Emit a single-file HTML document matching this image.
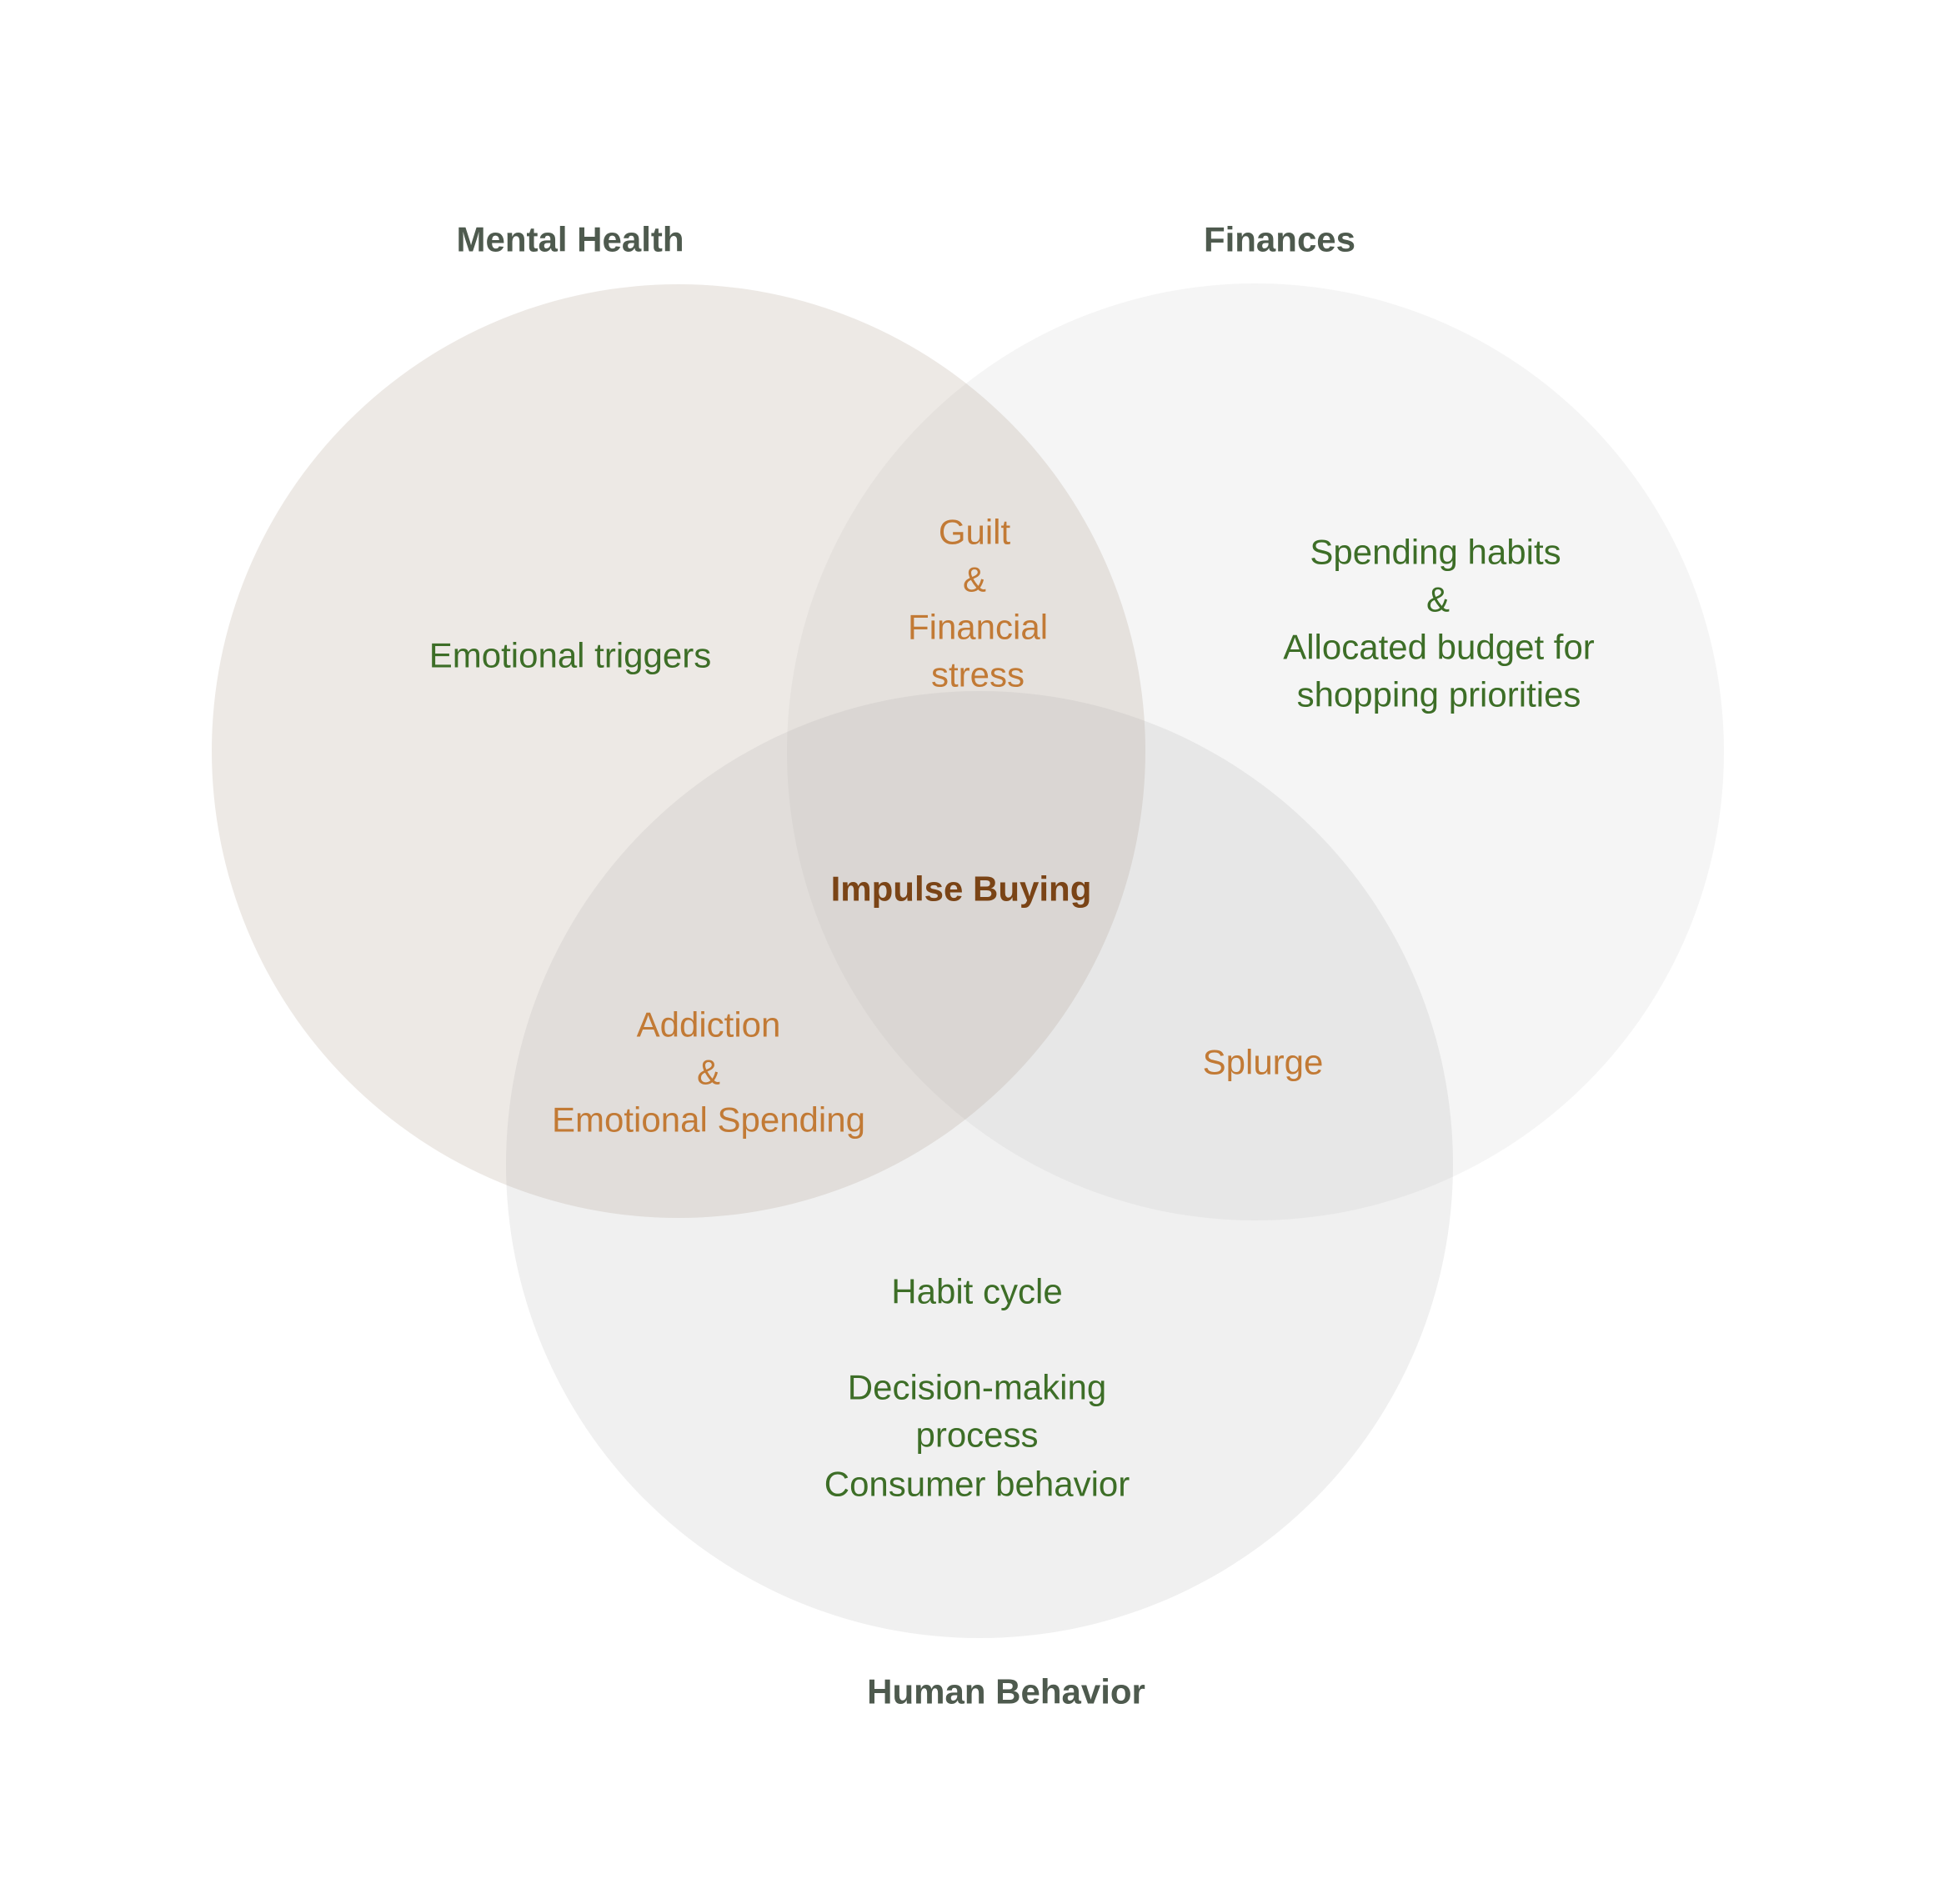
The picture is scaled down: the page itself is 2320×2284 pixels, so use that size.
<!DOCTYPE html>
<html><head><meta charset="utf-8"><style>
html,body{margin:0;padding:0;background:#fff;}
svg{display:block;}
text{font-family:"Liberation Sans",sans-serif;text-anchor:middle;dominant-baseline:central;}
.g{fill:#3d6e27;font-size:42px;}
.o{fill:#c27a35;font-size:42px;}
.h{fill:#4e5a4e;font-size:42px;font-weight:bold;}
</style></head><body>
<svg width="2320" height="2284" viewBox="0 0 2320 2284" xmlns="http://www.w3.org/2000/svg">
<rect width="2320" height="2284" fill="#fff"/>
<circle cx="814" cy="901" r="560" fill="rgb(200,188,176)" fill-opacity="0.33"/>
<circle cx="1506" cy="902" r="562" fill="rgb(160,160,160)" fill-opacity="0.11"/>
<circle cx="1175" cy="1397" r="568" fill="rgb(160,160,160)" fill-opacity="0.16"/>
<text class="h" x="684" y="287">Mental Health</text>
<text class="h" x="1535" y="287">Finances</text>
<text class="h" x="1207" y="2029">Human Behavior</text>
<text class="g" x="684" y="786">Emotional triggers</text>
<text class="o" x="1169" y="638">Guilt</text>
<text class="o" x="1169" y="695">&amp;</text>
<text class="o" x="1173" y="752">Financial</text>
<text class="o" x="1173" y="809">stress</text>
<text class="g" x="1722" y="662">Spending habits</text>
<text class="g" x="1725" y="719">&amp;</text>
<text class="g" x="1726" y="776">Allocated budget for</text>
<text class="g" x="1726" y="833">shopping priorities</text>
<text x="1153" y="1066" style="fill:#7a4416;font-size:42px;font-weight:bold">Impulse Buying</text>
<text class="o" x="850" y="1229">Addiction</text>
<text class="o" x="850" y="1286">&amp;</text>
<text class="o" x="850" y="1343">Emotional Spending</text>
<text class="o" x="1515" y="1274">Splurge</text>
<text class="g" x="1172" y="1549">Habit cycle</text>
<text class="g" x="1172" y="1664">Decision-making</text>
<text class="g" x="1172" y="1721">process</text>
<text class="g" x="1172" y="1780">Consumer behavior</text>
</svg>
</body></html>
